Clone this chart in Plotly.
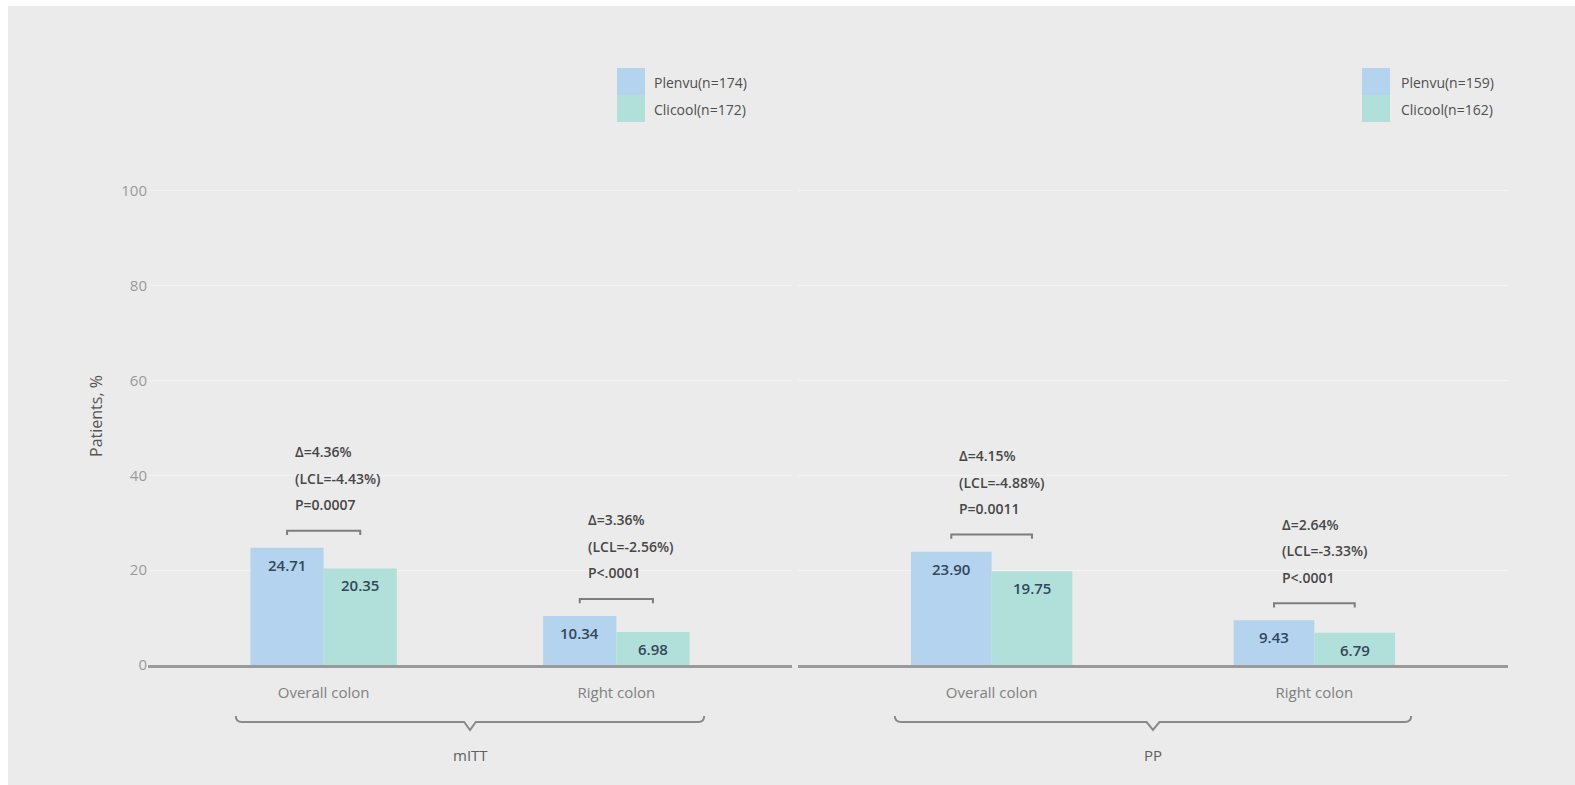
import plotly.graph_objects as go

# ---------------- data ----------------
categories = ["Overall colon", "Right colon"]
groups = ["mITT", "PP"]
plenvu_mitt = [24.71, 10.34]
clicool_mitt = [20.35, 6.98]
plenvu_pp = [23.90, 9.43]
clicool_pp = [19.75, 6.79]
legend_mitt = ["Plenvu(n=174)", "Clicool(n=172)"]
legend_pp = ["Plenvu(n=159)", "Clicool(n=162)"]
delta_mitt = ["Δ=4.36%", "Δ=3.36%"]
lcl_mitt = ["(LCL=-4.43%)", "(LCL=-2.56%)"]
p_mitt = ["P=0.0007", "P<.0001"]
delta_pp = ["Δ=4.15%", "Δ=2.64%"]
lcl_pp = ["(LCL=-4.88%)", "(LCL=-3.33%)"]
p_pp = ["P=0.0011", "P<.0001"]
y_ticks = [0, 20, 40, 60, 80, 100]

# ---------------- styles ----------------
BLUE = "#b3d3ee"
TEAL = "#b1e0da"
BG = "#ebebeb"
FONT = "Open Sans"
W, H = 1575, 785
ML, MR, MT, MB = 148, 67, 167, 120
PW = W - ML - MR
PH = H - MT - MB
YMAX = 105
XR = [-0.60, 1.6]


def px_x(px):
    return (px - ML) / PW


def px_y(py):
    return (H - MB - py) / PH


xpos = list(range(len(categories)))

fig = go.Figure()
panels = [
    ("x", "y", plenvu_mitt, clicool_mitt),
    ("x2", "y2", plenvu_pp, clicool_pp),
]
for xa, ya, pv, cv in panels:
    fig.add_trace(go.Bar(x=xpos, y=pv, xaxis=xa, yaxis=ya, marker_color=BLUE,
                         marker_line_width=0, name="Plenvu", showlegend=False,
                         offsetgroup="a", hoverinfo="y"))
    fig.add_trace(go.Bar(x=xpos, y=cv, xaxis=xa, yaxis=ya, marker_color=TEAL,
                         marker_line_width=0, name="Clicool", showlegend=False,
                         offsetgroup="b", hoverinfo="y"))

annotations = []
shapes = []

# background panel (white border at top/left)
shapes.append(dict(type="rect", xref="paper", yref="paper", layer="below",
                   x0=px_x(8), x1=px_x(W + 5), y0=px_y(H + 5), y1=px_y(6),
                   fillcolor=BG, line_width=0))

stats = [
    ("x", "y", plenvu_mitt, clicool_mitt, delta_mitt, lcl_mitt, p_mitt),
    ("x2", "y2", plenvu_pp, clicool_pp, delta_pp, lcl_pp, p_pp),
]
for xa, ya, pv, cv, dl, ll, pl in stats:
    for i in xpos:
        # value labels inside bars
        for val, off in ((pv[i], -0.125), (cv[i], 0.125)):
            annotations.append(dict(x=i + off, y=val, xref=xa, yref=ya,
                                    text=f"{val:.2f}", showarrow=False,
                                    yshift=-17,
                                    font=dict(family=FONT, size=15, color="#34475b", weight=600)))
        # bracket
        b = max(pv[i], cv[i]) + 3.6
        tick = 0.9
        shapes.append(dict(type="path", xref=xa, yref=ya,
                           path=f"M {i-0.125} {b-tick} L {i-0.125} {b} L {i+0.125} {b} L {i+0.125} {b-tick}",
                           line=dict(color="#7d7d7d", width=2)))
        for k, txt in enumerate((pl[i], ll[i], dl[i])):
            annotations.append(dict(x=i - 0.125, y=b, xref=xa, yref=ya, text=txt,
                                    showarrow=False, xanchor="left", yanchor="middle",
                                    xshift=6, yshift=26 + 26.5 * k,
                                    font=dict(family=FONT, size=14, color="#474747", weight=600)))

# group braces + labels
yl = px_y(722)
yu = px_y(716)
yt = px_y(730)
for xa, g in (("x", groups[0]), ("x2", groups[1])):
    x0, x1, xc = -0.3, 1.3, 0.5
    d = 0.02
    shapes.append(dict(type="path", xref=xa, yref="paper",
                       path=(f"M {x0} {yu} Q {x0} {yl} {x0+d} {yl} L {xc-d} {yl} "
                             f"L {xc} {yt} L {xc+d} {yl} L {x1-d} {yl} Q {x1} {yl} {x1} {yu}"),
                       line=dict(color="#8a8a8a", width=2)))
    annotations.append(dict(x=xc, y=px_y(755), xref=xa, yref="paper", text=g,
                            showarrow=False, yanchor="middle",
                            font=dict(family=FONT, size=15, color="#5f5f5f")))

# legends
for (sx, tx, labels) in ((617, 652, legend_mitt), (1362, 1399, legend_pp)):
    for j, (lab, col) in enumerate(zip(labels, (BLUE, TEAL))):
        top = 68 + 27 * j
        shapes.append(dict(type="rect", xref="paper", yref="paper",
                           x0=px_x(sx), x1=px_x(sx + 28), y0=px_y(top + 27), y1=px_y(top),
                           fillcolor=col, line_width=0))
        annotations.append(dict(x=px_x(tx), y=px_y(top + 14), xref="paper", yref="paper",
                                text=lab, showarrow=False, xanchor="left", yanchor="middle",
                                font=dict(family=FONT, size=14, color="#4f4f4f")))

xaxis_common = dict(range=XR, tickmode="array", tickvals=xpos, ticktext=categories,
                    showgrid=False, zeroline=False, showline=True, linecolor="#9a9a9a",
                    linewidth=2.5, ticks="outside", ticklen=12, tickcolor="rgba(0,0,0,0)",
                    tickfont=dict(family=FONT, size=15, color="#808080"), automargin=False,
                    fixedrange=True)
yaxis_common = dict(range=[0, YMAX], tickvals=y_ticks, showgrid=True, gridcolor="#f3f3f3",
                    gridwidth=1, zeroline=False, showline=False, automargin=False,
                    fixedrange=True)

fig.update_layout(
    width=W, height=H,
    margin=dict(l=ML, r=MR, t=MT, b=MB),
    paper_bgcolor="white",
    plot_bgcolor="rgba(0,0,0,0)",
    barmode="group", bargap=0.5, bargroupgap=0,
    showlegend=False,
    xaxis=dict(domain=[0, px_x(792)], anchor="y", **xaxis_common),
    xaxis2=dict(domain=[px_x(798), 1], anchor="y2", **xaxis_common),
    yaxis=dict(domain=[0, 1], anchor="x", showticklabels=True,
               tickfont=dict(family=FONT, size=15, color="#9a9a9a"),
               title=dict(text="Patients, %", standoff=14,
                          font=dict(family=FONT, size=16, color="#555555")),
               **yaxis_common),
    yaxis2=dict(domain=[0, 1], anchor="x2", showticklabels=False, **yaxis_common),
    annotations=annotations,
    shapes=shapes,
    font=dict(family=FONT),
)

fig.write_html("out.html")
